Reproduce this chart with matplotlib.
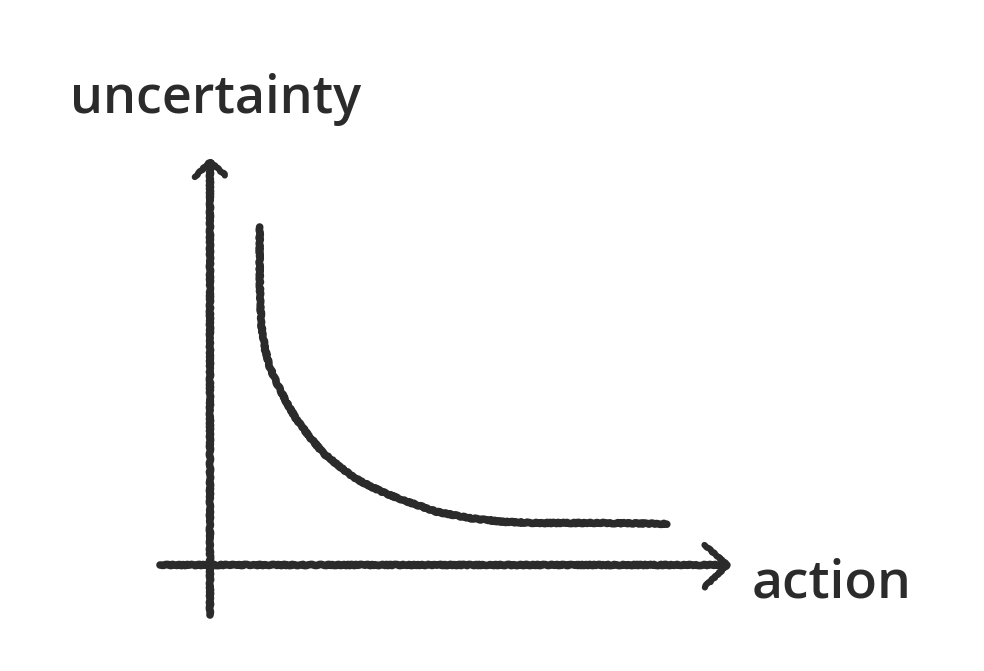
import matplotlib
matplotlib.use("Agg")
import matplotlib.pyplot as plt

# Curve data (action vs uncertainty), in sketch units where axes cross at (0, 0)
action = [1.08, 1.08, 1.09, 1.12, 1.20, 1.30, 1.45, 1.67, 1.89, 2.17, 2.46,
          2.83, 3.15, 3.48, 3.80, 4.20, 4.93, 5.65, 6.37, 7.11, 8.54, 9.93]
uncertainty = [8.45, 7.45, 6.62, 5.95, 5.38, 4.95, 4.55, 4.05, 3.62, 3.20, 2.80,
               2.45, 2.17, 1.97, 1.80, 1.62, 1.33, 1.17, 1.08, 1.05, 1.05, 1.03]

x_label = "action"
y_label = "uncertainty"

INK = "#2b2b2b"

fig = plt.figure(figsize=(9.84, 6.71), dpi=100)
ax = fig.add_axes([0, 0, 1, 1])
ax.set_xlim(-4.565, 16.826)
ax.set_ylim(-2.65, 14.125)
ax.axis("off")

lw = 5.5
# axes lines with arrow heads
ax.plot([-1.09, 11.2], [0, 0], color=INK, lw=lw, solid_capstyle="round")
ax.plot([0, 0], [-1.25, 10.05], color=INK, lw=lw, solid_capstyle="round")
# arrow heads (chevrons)
ax.plot([10.75, 11.25, 10.75], [0.5, 0.0, -0.55], color=INK, lw=lw - 1,
        solid_capstyle="round", solid_joinstyle="round")
ax.plot([-0.33, 0.0, 0.33], [9.7, 10.08, 9.75], color=INK, lw=lw - 1,
        solid_capstyle="round", solid_joinstyle="round")

# curve
ax.plot(action, uncertainty, color=INK, lw=lw, solid_capstyle="round",
        solid_joinstyle="round")

ax.text(-3.05, 11.3, y_label, fontsize=37.5, color=INK, fontweight="semibold",
        family=["Open Sans", "DejaVu Sans"], va="baseline", ha="left")
ax.text(11.78, -0.82, x_label, fontsize=38.5, color=INK, fontweight="semibold",
        family=["Open Sans", "DejaVu Sans"], va="baseline", ha="left")

for l in ax.lines:
    l.set_sketch_params(scale=0.6, length=8, randomness=4)

fig.savefig("out.png", dpi=100, facecolor="white")
